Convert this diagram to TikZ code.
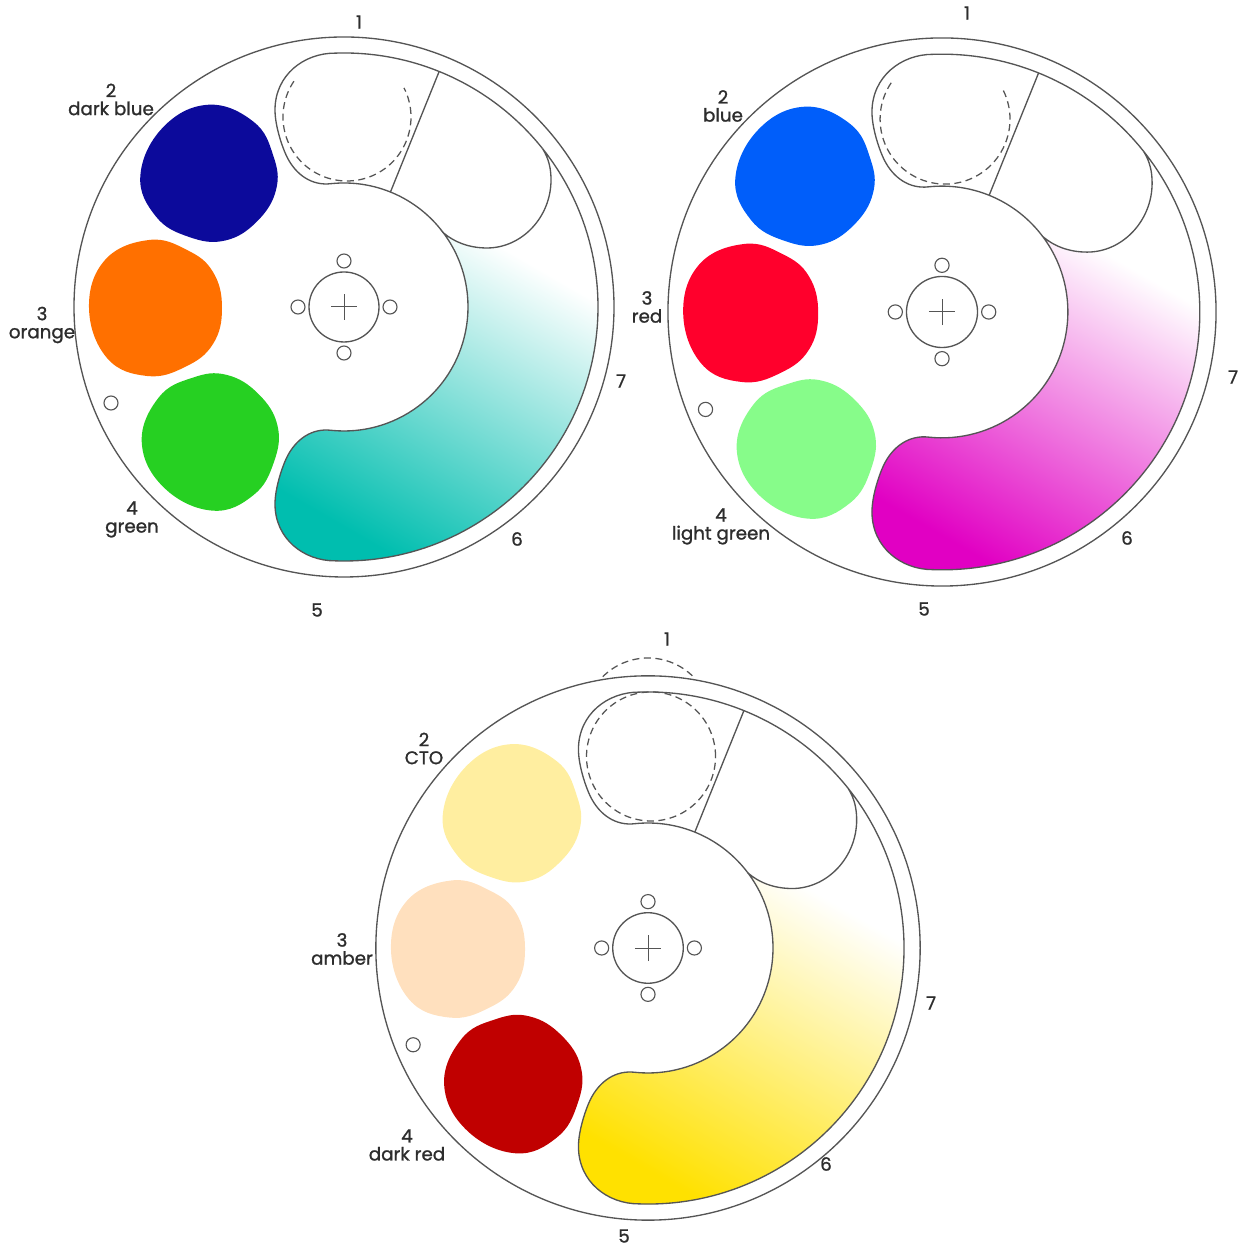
\documentclass[tikz,border=0pt]{standalone}
\usepackage{fontspec}
\setmainfont{Poppins}[FakeBold=1.2]
\usepackage{tikz}
\definecolor{DarkBlue}{RGB}{12,10,155}
\definecolor{OrangeGel}{RGB}{255,112,0}
\definecolor{GreenGel}{RGB}{38,208,34}
\definecolor{BlueGel}{RGB}{0,94,250}
\definecolor{RedGel}{RGB}{255,0,44}
\definecolor{LightGreen}{RGB}{135,252,138}
\definecolor{CTO}{RGB}{255,238,160}
\definecolor{Amber}{RGB}{255,224,190}
\definecolor{DarkRed}{RGB}{192,0,0}
\definecolor{Teal}{RGB}{0,190,175}
\definecolor{Magenta}{RGB}{225,0,195}
\definecolor{Yellow}{RGB}{255,225,0}
\definecolor{Ink}{RGB}{85,85,85}
\definecolor{Label}{RGB}{45,45,45}
\pgfdeclareverticalshading{gradA}{100bp}{color(0bp)=(Teal);color(34bp)=(Teal);color(61bp)=(white);color(100bp)=(white)}
\pgfdeclareverticalshading{gradB}{100bp}{color(0bp)=(Magenta);color(34bp)=(Magenta);color(61bp)=(white);color(100bp)=(white)}
\pgfdeclareverticalshading{gradC}{100bp}{color(0bp)=(Yellow);color(34bp)=(Yellow);color(61bp)=(white);color(100bp)=(white)}
\newcommand{\blobshape}{plot[smooth cycle,tension=0.7] coordinates {(-6,68) (32,58) (58,36) (67,0)
  (58,-36) (30,-59) (-8,-68) (-48,-50) (-66,0) (-50,48)}}
\newcommand{\trackshape}{(36.8:124) arc[start angle=36.8,end angle=-96,radius=124]
  .. controls (-32,-121) and (-48,-132) .. (-57,-150)
  .. controls (-61,-158) and (-69,-180) .. (-69,-197)
  .. controls (-69,-232) and (-40,-254) .. (-92:254)
  arc[start angle=-92,end angle=38.6,radius=254]
  .. controls (205,148) and (207,138) .. (207,127)
  .. controls (207,90) and (178,59) .. (143,59)
  .. controls (125,59) and (110,65) .. cycle}
\tikzset{
  wheelline/.style={draw=Ink,line width=0.95pt},
  dashline/.style={draw=Ink,line width=0.9pt,dash pattern=on 5pt off 3.2pt},
  gellabel/.style={text=Label,font=\fontsize{13}{12.8}\selectfont,align=center,inner sep=0pt},
}
\begin{document}
\begin{tikzpicture}[x=0.025cm,y=0.025cm]
  \useasboundingbox (0,0) rectangle (1246,1247);
  % the three wheels
  \foreach \w/\cx/\cy/\s/\colA/\colB/\colC/\dfrom/\dto in {
    A/344/940/1/DarkBlue/OrangeGel/GreenGel/146/387,
    B/942/935/1.015/BlueGel/RedGel/LightGreen/146/387,
    C/648/299/1.008/CTO/Amber/DarkRed/0/360}
  {
    \begin{scope}[shift={(\cx,\cy)},scale=\s]
      \draw[wheelline] (0,0) circle[radius=270];
      % gel blobs
      \foreach \ang/\col in {-45/\colA,0/\colB,45/\colC}
        \fill[\col,rotate=\ang,shift={(-189,-1)}] \blobshape;
      % graduated part
      \begin{scope}
        \clip \trackshape;
        \shade[shading=grad\w,shading angle=-30] (-300,-300) rectangle (300,300);
      \end{scope}
      \draw[wheelline] \trackshape;
      % open part with the lobe at the top
      \draw[wheelline] (36.8:124) arc[start angle=36.8,end angle=96,radius=124]
        .. controls (-32,121) and (-48,132) .. (-57,150)
        .. controls (-61,158) and (-69,180) .. (-69,197)
        .. controls (-69,232) and (-40,254) .. (92:254)
        arc[start angle=92,end angle=38.6,radius=254];
      \draw[wheelline] (68:124) -- (68:254);
      \draw[dashline] (3,190) ++(\dfrom:64) arc[start angle=\dfrom,end angle=\dto,radius=64];
      % hub
      \draw[wheelline] (0,0) circle[radius=35];
      \draw[wheelline,line width=0.7pt] (-13,0) -- (13,0) (0,-13) -- (0,13);
      \foreach \ang in {0,90,180,270}
        \draw[wheelline,line width=0.8pt] (\ang:46) circle[radius=7];
      \draw[wheelline,line width=0.8pt] (-233,-96) circle[radius=7];
    \end{scope}
  }
  % dashed arc above wheel C
  \draw[dashline] (648,525) ++(135:64) arc[start angle=135,end angle=45,radius=64];
  % labels
  \foreach \n/\x/\y/\t in {
    A1/359/1225/1,A2/111/1147.5/2\\dark blue,A3/42/922/3\\orange,A4/132/727.5/4\\green,
    A5/317/637/5,A6/517/708/6,A7/621/866/7,
    B1/967/1234/1,B2/723/1141/2\\blue,B3/647/940/3\\red,B4/721/720.5/4\\light green,
    B5/924/638/5,B6/1127/709/6,B7/1233/870/7,
    C1/667/608/1,C2/424/498.5/2\\CTO,C3/342/298/3\\amber,C4/407/102/4\\dark red,
    C5/624/11/5,C6/826/83/6,C7/931/244/7}
    \node[gellabel] (lbl\n) at (\x,\y) {\t};
\end{tikzpicture}
\end{document}
